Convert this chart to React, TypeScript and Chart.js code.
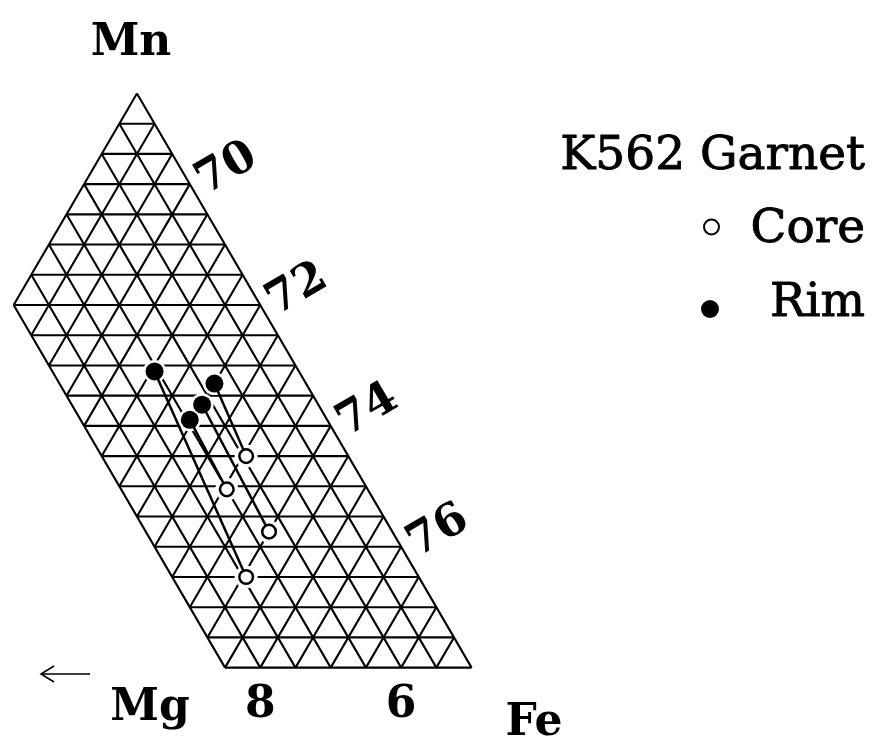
import React, { useEffect, useRef } from "react";
import { Chart, registerables } from "chart.js";

Chart.register(...registerables);

// Composition window of the ternary Mn–Fe–Mg diagram (percent)
const MN_MIN = 17;
const FE_MIN = 68.5;
const MG_MIN = 5;
const MG_MAX = 8.5;
const GRID_STEP = 0.5;

// K562 garnet analyses: rim and its matching core share an index
const rimMn = [21.9, 21.7, 21.35, 21.1];
const rimFe = [71.05, 72.0, 72.0, 71.95];
const rimMg = [7.05, 6.3, 6.65, 6.95];

const coreMn = [18.5, 20.5, 19.25, 19.95];
const coreFe = [74.05, 73.05, 74.0, 73.05];
const coreMg = [7.45, 6.45, 6.75, 7.0];

// Tick labels
const feTicks = [70, 72, 74, 76];
const mgTicks = [8, 6];

const SQ3_2 = Math.sqrt(3) / 2;
const FONT = "'DejaVu Serif', 'Liberation Serif', serif";

// Ternary (Fe, Mn) -> cartesian: Mg at origin, Fe at (100, 0), Mn at apex
const toXY = (fe: number, mn: number) => ({ x: fe + mn / 2, y: mn * SQ3_2 });

function gridSegments() {
  const segs: { x: number; y: number }[][] = [];
  const eps = 1e-9;
  // constant Mn (horizontal)
  for (let mn = MN_MIN; mn <= 100 - MG_MIN - FE_MIN + eps; mn += GRID_STEP) {
    const mgHi = Math.min(MG_MAX, 100 - mn - FE_MIN);
    if (mgHi - MG_MIN < eps) continue;
    segs.push([toXY(100 - mn - MG_MIN, mn), toXY(100 - mn - mgHi, mn)]);
  }
  // constant Mg (parallel to the Mn–Fe side)
  for (let mg = MG_MIN; mg <= MG_MAX + eps; mg += GRID_STEP) {
    const mnHi = 100 - mg - FE_MIN;
    segs.push([toXY(100 - mg - MN_MIN, MN_MIN), toXY(100 - mg - mnHi, mnHi)]);
  }
  // constant Fe (parallel to the Mg–Mn side)
  for (let fe = FE_MIN; fe <= 100 - MN_MIN - MG_MIN + eps; fe += GRID_STEP) {
    const mgHi = Math.min(MG_MAX, 100 - MN_MIN - fe);
    if (mgHi - MG_MIN < eps) continue;
    segs.push([toXY(fe, 100 - fe - MG_MIN), toXY(fe, 100 - fe - mgHi)]);
  }
  return segs;
}

// Text drawn with a thin outline to give the heavier printed weight
function heavyText(ctx: CanvasRenderingContext2D, s: string, x: number, y: number, w: number) {
  ctx.lineWidth = w;
  ctx.lineJoin = "round";
  ctx.strokeText(s, x, y);
  ctx.fillText(s, x, y);
}

const labelsPlugin = {
  id: "ternaryLabels",
  afterDatasetsDraw(chart: any) {
    const { ctx } = chart;
    const xs = chart.scales.x;
    const ys = chart.scales.y;
    const px = (fe: number, mn: number) => {
      const p = toXY(fe, mn);
      return [xs.getPixelForValue(p.x), ys.getPixelForValue(p.y)];
    };
    ctx.save();
    ctx.fillStyle = "#000";
    ctx.strokeStyle = "#000";

    // corner titles
    ctx.textAlign = "center";
    ctx.textBaseline = "alphabetic";
    ctx.font = `bold 44px ${FONT}`;
    ctx.fillText("Mn", 131, 55);
    ctx.fillText("Mg", 150, 720);
    ctx.fillText("Fe", 534, 735);

    // Mg ticks along the lower edge (Mn = MN_MIN)
    for (const mg of mgTicks) {
      const [cx, cy] = px(100 - MN_MIN - mg, MN_MIN);
      ctx.fillText(String(mg), cx, cy + 49);
    }

    // Fe ticks along the right edge (Mg = MG_MIN)
    const mnTop = 100 - MG_MIN - FE_MIN;
    const [ax, ay] = px(FE_MIN, mnTop);
    const [bx, by] = px(100 - MG_MIN - MN_MIN, MN_MIN);
    const len = Math.hypot(bx - ax, by - ay);
    const nx = (by - ay) / len;
    const ny = -(bx - ax) / len;
    const ang = Math.atan2(ny, nx);
    ctx.textBaseline = "middle";
    ctx.font = `bold 45px ${FONT}`;
    for (const fe of feTicks) {
      const [cx, cy] = px(fe, 100 - MG_MIN - fe);
      ctx.save();
      ctx.translate(cx + nx * 41, cy + ny * 41 + 3);
      ctx.rotate(ang);
      ctx.fillText(String(fe), 0, 3);
      ctx.restore();
    }

    // Mg direction arrow
    ctx.lineWidth = 1.6;
    ctx.beginPath();
    ctx.moveTo(41, 674);
    ctx.lineTo(90, 674);
    ctx.moveTo(54, 666);
    ctx.lineTo(41, 674);
    ctx.lineTo(54, 682);
    ctx.stroke();

    // legend
    ctx.textAlign = "right";
    ctx.textBaseline = "alphabetic";
    ctx.font = `47px ${FONT}`;
    heavyText(ctx, "K562 Garnet", 865, 169, 0.9);
    heavyText(ctx, "Core", 865, 242, 0.9);
    heavyText(ctx, "Rim", 865, 316, 0.9);
    ctx.lineWidth = 2;
    ctx.beginPath();
    ctx.arc(711.5, 227, 7.5, 0, Math.PI * 2);
    ctx.fillStyle = "#fff";
    ctx.fill();
    ctx.stroke();
    ctx.fillStyle = "#000";
    ctx.beginPath();
    ctx.arc(710, 309, 9, 0, Math.PI * 2);
    ctx.fill();
    ctx.restore();
  },
};

export default function App() {
  const canvasRef = useRef<HTMLCanvasElement | null>(null);

  useEffect(() => {
    if (!canvasRef.current) return;

    const rimPts = rimMn.map((mn, i) => toXY(rimFe[i], mn));
    const corePts = coreMn.map((mn, i) => toXY(coreFe[i], mn));

    const gridSets = gridSegments().map((seg) => ({
      data: seg,
      showLine: true,
      borderColor: "#000",
      borderWidth: 2.1,
      pointRadius: 0,
      order: 3,
    }));

    const tieSets = rimPts.map((r, i) => ({
      data: [r, corePts[i]],
      showLine: true,
      borderColor: "#000",
      borderWidth: 2.5,
      pointRadius: 0,
      order: 1,
    }));

    const chart = new Chart(canvasRef.current, {
      type: "scatter",
      data: {
        datasets: [
          {
            label: "Rim",
            data: rimPts,
            pointRadius: 9,
            pointBackgroundColor: "#000",
            pointBorderWidth: 0,
            order: 0,
          },
          {
            label: "Core",
            data: corePts,
            pointRadius: 6.8,
            pointBackgroundColor: "#fff",
            pointBorderColor: "#000",
            pointBorderWidth: 2.5,
            order: 0,
          },
          ...tieSets,
          {
            label: "halo",
            data: [...rimPts, ...corePts],
            pointRadius: 11.5,
            pointBackgroundColor: "#fff",
            pointBorderWidth: 0,
            order: 2,
          },
          ...gridSets,
        ] as any,
      },
      options: {
        responsive: false,
        animation: false,
        events: [],
        layout: { padding: 0, autoPadding: false },
        plugins: { legend: { display: false }, tooltip: { enabled: false } },
        scales: {
          x: { type: "linear", display: false, min: 79.806, max: 92.212 },
          y: { type: "linear", display: false, min: 13.714, max: 24.289 },
        },
      },
      plugins: [labelsPlugin],
    });
    return () => chart.destroy();
  }, []);

  return (
    <div style={{ position: "absolute", left: 0, top: 0, width: 874, height: 738, background: "#fff" }}>
      <canvas ref={canvasRef} width={874} height={738} style={{ display: "block" }} />
    </div>
  );
}
